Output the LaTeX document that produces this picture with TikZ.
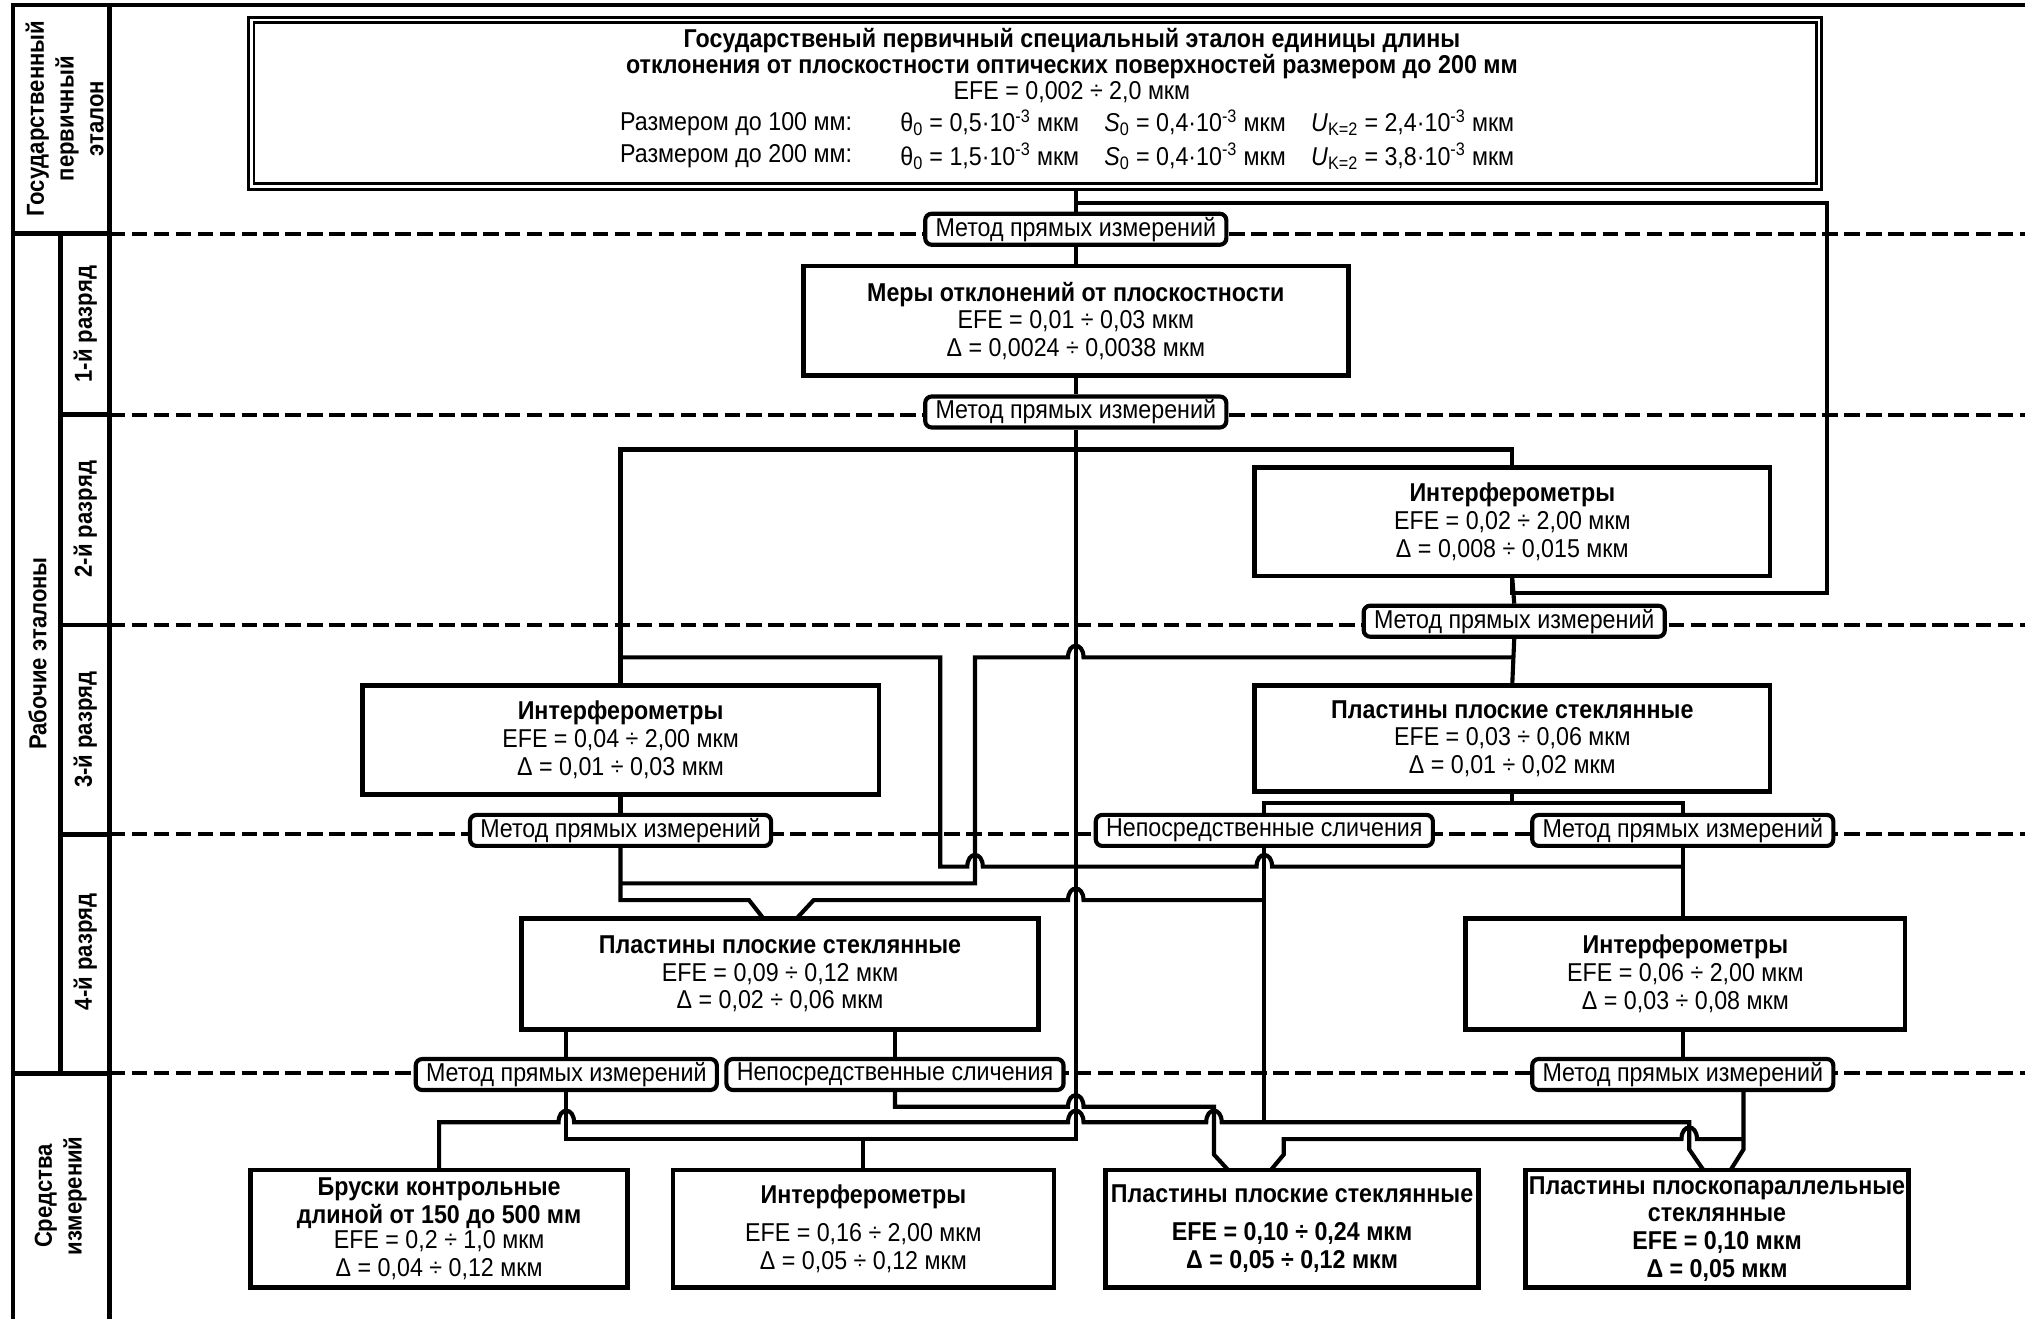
\documentclass[tikz,border=0pt]{standalone}
\usepackage{fontspec}
\setmainfont{Liberation Sans}[FakeStretch=0.9]
\usetikzlibrary{calc}
\pgfdeclarelayer{bg}
\pgfsetlayers{bg,main}
\newcommand\fsBox{\fontsize{20}{21.5}\selectfont}
\newcommand\fsLbl{\fontsize{20}{21}\selectfont}
\newcommand\fsSide{\fontsize{19}{23}\selectfont}
\begin{document}
\begin{tikzpicture}[x=1pt,y=-1pt,
  frame/.style={line width=3.6pt},
  sep/.style={line width=3.2pt, dash pattern=on 12pt off 5pt},
  conn/.style={line width=3.2pt},
  box/.style={draw, line width=3.6pt, fill=white, align=center, inner sep=0pt, font=\fsBox},
  lbl/.style={draw, line width=3.2pt, fill=white, rounded corners=5pt, inner xsep=8pt, inner ysep=0pt, minimum height=24pt, font=\fsLbl},
  side/.style={rotate=90, font=\fsSide\bfseries, align=center, inner sep=0pt},
  txt/.style={font=\fsBox, inner sep=0pt}]

\useasboundingbox (0,0) rectangle (1568,1021);

% ---- frame / left column
\draw[frame] (10,1021) -- (10,4) -- (1568,4);
\draw[frame] (85,4) -- (85,1021);
\draw[frame] (10,181) -- (85,181);
\draw[frame] (10,831) -- (85,831);
\draw[frame] (47,181) -- (47,831);
\foreach \yy in {321,484,646} \draw[frame] (47,\yy) -- (85,\yy);

\node[side] (s0) at (50,92) {Государственный\\первичный\\эталон};
\node[side] (s1) at (29,506) {Рабочие эталоны};
\node[side] (r1) at (66,251) {1-й разряд};
\node[side] (r2) at (66,402) {2-й разряд};
\node[side] (r3) at (66,565) {3-й разряд};
\node[side] (r4) at (66,737) {4-й разряд};
\node[side] (s2) at (47,926) {Средства\\измерений};

% ---- state primary standard
\node[draw, double, line width=2.2pt, double distance=2.2pt, fill=white,
      minimum width=1214pt, minimum height=129pt, inner sep=0pt] (std) at (801.5,80) {};
\node[txt, anchor=base, font=\fsBox\bfseries] (t1) at (830,37) {Государственый первичный специальный эталон единицы длины};
\node[txt, anchor=base, font=\fsBox\bfseries] (t2) at (830,57) {отклонения от плоскостности оптических поверхностей размером до 200 мм};
\node[txt, anchor=base] (t3) at (830,77) {EFE = 0,002 ÷ 2,0 мкм};
\node[txt, anchor=base west] (t4a) at (480,101) {Размером до 100 мм:};
\node[txt, anchor=base west] (t4b) at (697,102) {θ\textsubscript{0} = 0,5·10\textsuperscript{-3} мкм};
\node[txt, anchor=base west] (t4c) at (855,102) {\textit{S}\textsubscript{0} = 0,4·10\textsuperscript{-3} мкм};
\node[txt, anchor=base west] (t4d) at (1015,102) {\textit{U}\textsubscript{K=2} = 2,4·10\textsuperscript{-3} мкм};
\node[txt, anchor=base west] (t5a) at (480,126) {Размером до 200 мм:};
\node[txt, anchor=base west] (t5b) at (697,128) {θ\textsubscript{0} = 1,5·10\textsuperscript{-3} мкм};
\node[txt, anchor=base west] (t5c) at (855,128) {\textit{S}\textsubscript{0} = 0,4·10\textsuperscript{-3} мкм};
\node[txt, anchor=base west] (t5d) at (1015,128) {\textit{U}\textsubscript{K=2} = 3,8·10\textsuperscript{-3} мкм};

% ---- boxes
\node[box, minimum width=422pt, minimum height=85pt] (b1) at (833,248.5)
  {\textbf{Меры отклонений от плоскостности}\\EFE = 0,01 ÷ 0,03 мкм\\Δ = 0,0024 ÷ 0,0038 мкм};
\node[box, minimum width=399pt, minimum height=84pt] (b2) at (1171,404)
  {\textbf{Интерферометры}\\EFE = 0,02 ÷ 2,00 мкм\\Δ = 0,008 ÷ 0,015 мкм};
\node[box, minimum width=400pt, minimum height=84pt] (b3) at (480.5,573)
  {\textbf{Интерферометры}\\EFE = 0,04 ÷ 2,00 мкм\\Δ = 0,01 ÷ 0,03 мкм};
\node[box, minimum width=399pt, minimum height=82pt] (b4) at (1171,572)
  {\textbf{Пластины плоские стеклянные}\\EFE = 0,03 ÷ 0,06 мкм\\Δ = 0,01 ÷ 0,02 мкм};
\node[box, minimum width=400pt, minimum height=86pt] (b5) at (604,754)
  {\textbf{Пластины плоские стеклянные}\\EFE = 0,09 ÷ 0,12 мкм\\Δ = 0,02 ÷ 0,06 мкм};
\node[box, minimum width=340pt, minimum height=86pt] (b6) at (1305,754)
  {\textbf{Интерферометры}\\EFE = 0,06 ÷ 2,00 мкм\\Δ = 0,03 ÷ 0,08 мкм};
\node[box, minimum width=292pt, minimum height=91pt] (ba) at (340,951.5)
  {\textbf{Бруски контрольные}\\\textbf{длиной от 150 до 500 мм}\\[-2pt]EFE = 0,2 ÷ 1,0 мкм\\Δ = 0,04 ÷ 0,12 мкм};
\node[box, minimum width=295pt, minimum height=91pt] (bb) at (668.5,951.5)
  {\textbf{Интерферометры}\\[8pt]EFE = 0,16 ÷ 2,00 мкм\\Δ = 0,05 ÷ 0,12 мкм};
\node[box, minimum width=289pt, minimum height=91pt] (bc) at (1000.5,951.5)
  {\textbf{Пластины плоские стеклянные}\\[8pt]\textbf{EFE = 0,10 ÷ 0,24 мкм}\\\textbf{Δ = 0,05 ÷ 0,12 мкм}};
\node[box, minimum width=297pt, minimum height=91pt] (bd) at (1329.5,951.5)
  {\textbf{Пластины плоскопараллельные}\\\textbf{стеклянные}\\\textbf{EFE = 0,10 мкм}\\\textbf{Δ = 0,05 мкм}};

% ---- method labels
\node[lbl] (L1) at (833,177.5) {Метод прямых измерений};
\node[lbl] (L2) at (833,319) {Метод прямых измерений};
\node[lbl] (L3) at (1172.5,481) {Метод прямых измерений};
\node[lbl] (L4) at (480.5,643) {Метод прямых измерений};
\node[lbl] (L5) at (979,643) {Непосредственные сличения};
\node[lbl] (L6) at (1303,643) {Метод прямых измерений};
\node[lbl] (L7) at (438.5,832) {Метод прямых измерений};
\node[lbl] (L8) at (693,832) {Непосредственные сличения};
\node[lbl] (L9) at (1303,832) {Метод прямых измерений};

\coordinate (L9o) at (1350,844);

\begin{pgfonlayer}{bg}
\foreach \yy in {181,321,484,646,831} \draw[sep] (85,\yy) -- (1568,\yy);

% trunk
\draw[conn] (std.south -| b1.north) -- (b1.north);
\draw[conn] (b1.south) -- (L2.north);
\draw[conn] (L2.south) |- (438.5,882) -- (L7.south);
% state standard -> L3
\draw[conn] (833,157) -| (1415,459) -| (b2.south);
\draw[conn] (b2.south) -- (L3.north);
\draw[conn] (L3.south) -- (b4.north);
% L2 -> b3, b2
\draw[conn] (b3.north) |- (1171,348) -- (b2.north);
\draw[conn] (b3.south) -- (L4.north);
% L3 -> b5 (via 755)
\draw[conn] (480.5,684) -| (755,509) -- (827,509) .. controls (827,497) and (839,497) .. (839,509) -- (1171,509);
% L2 -> b6 (via 728)
\draw[conn] (480.5,509) -| (728,671) -- (749,671) .. controls (749,659) and (761,659) .. (761,671)
  -- (973,671) .. controls (973,659) and (985,659) .. (985,671) -- (1303,671);
% funnels into b5
\draw[conn] (L4.south) |- (580,697) -- (591,711);
\draw[conn] (979,697) -- (839,697) .. controls (839,685) and (827,685) .. (827,697) -- (630,697) -- (617,711);
% b4 -> L5, L6
\draw[conn] (b4.south) -- (1171,622);
\draw[conn] (L5.north) |- (1303,622) -- (L6.north);
\draw[conn] (L5.south) -- (979,869);
\draw[conn] (L6.south) -- (L6.south |- b6.north);
% 4th rank -> labels
\draw[conn] (L7.north) -- (L7.north |- b5.south);
\draw[conn] (L8.north) -- (L8.north |- b5.south);
\draw[conn] (L9.north) -- (L9.north |- b6.south);
% bottom distribution
\draw[conn] (L8.south) |- (827,857) .. controls (827,845) and (839,845) .. (839,857) -- (940,857) -- (940,894) -- (951,906);
\draw[conn] (ba.north) |- (432.5,869) .. controls (432.5,857) and (444.5,857) .. (444.5,869)
  -- (827,869) .. controls (827,857) and (839,857) .. (839,869)
  -- (934,869) .. controls (934,857) and (946,857) .. (946,869)
  -- (1308,869) -- (1308,890) -- (1319,906);
\draw[conn] (668.5,882) -- (bb.north);
\draw[conn] (L9o) -- (1350,890) -- (1340,906);
\draw[conn] (1350,882) -- (1314,882) .. controls (1314,870) and (1302,870) .. (1302,882) -- (994,882) -- (994,894) -- (984,906);
\end{pgfonlayer}
\end{tikzpicture}
\end{document}
